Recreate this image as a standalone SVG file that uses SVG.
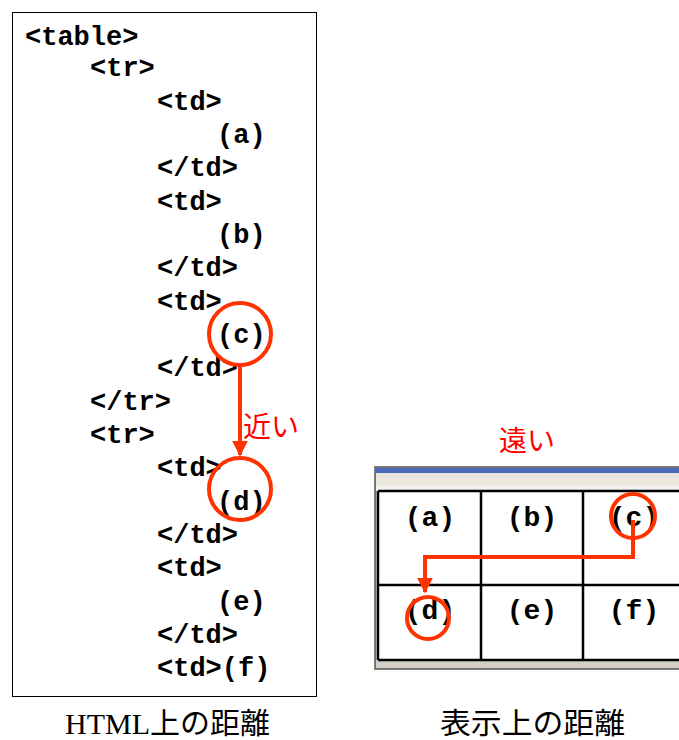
<svg xmlns="http://www.w3.org/2000/svg" width="679" height="740" viewBox="0 0 679 740">
  <defs>
    <style>
      .code { font-family: "Liberation Mono", "Courier New", monospace; font-weight: bold; font-size: 27px; fill: #000; }
      .cell { font-family: "Liberation Mono", "Courier New", monospace; font-weight: bold; font-size: 28px; fill: #000; text-anchor: middle; }
      .mark { fill: none; stroke: #ff3300; stroke-width: 4; }
      .note { font-family: "Noto Sans CJK JP", sans-serif; font-size: 28px; fill: #ff0000; }
      .caption { font-family: "Liberation Serif", "Noto Sans CJK JP", serif; font-size: 29px; fill: #000; }
      .grid { stroke: #000; stroke-width: 2.5; fill: none; }
    </style>
    <marker id="head" viewBox="0 0 10 10" refX="9" refY="5" markerWidth="4" markerHeight="4" orient="auto" markerUnits="strokeWidth">
      <path d="M0,0 L10,5 L0,10 Z" fill="#ff3300"/>
    </marker>
  </defs>

  <rect width="679" height="740" fill="#fff"/>

  <!-- HTML source listing -->
  <g id="html-source">
    <rect x="12.5" y="12.5" width="304" height="684" fill="#fff" stroke="#000" stroke-width="1"/>
    <text class="code" x="25" y="45">&lt;table&gt;</text>
    <text class="code" x="90" y="76">&lt;tr&gt;</text>
    <text class="code" x="157" y="110">&lt;td&gt;</text>
    <text class="code" x="217" y="143">(a)</text>
    <text class="code" x="157" y="176">&lt;/td&gt;</text>
    <text class="code" x="157" y="210">&lt;td&gt;</text>
    <text class="code" x="217" y="243">(b)</text>
    <text class="code" x="157" y="276">&lt;/td&gt;</text>
    <text class="code" x="157" y="310">&lt;td&gt;</text>
    <text class="code" x="217" y="343">(c)</text>
    <text class="code" x="157" y="376">&lt;/td&gt;</text>
    <text class="code" x="90" y="410">&lt;/tr&gt;</text>
    <text class="code" x="90" y="443">&lt;tr&gt;</text>
    <text class="code" x="157" y="476">&lt;td&gt;</text>
    <text class="code" x="217" y="510">(d)</text>
    <text class="code" x="157" y="543">&lt;/td&gt;</text>
    <text class="code" x="157" y="576">&lt;td&gt;</text>
    <text class="code" x="217" y="610">(e)</text>
    <text class="code" x="157" y="643">&lt;/td&gt;</text>
    <text class="code" x="157" y="676">&lt;td&gt;(f)</text>
  </g>

  <!-- rendered table inside a browser window -->
  <g id="browser">
    <rect x="375" y="467" width="310" height="202" fill="#c8c8c8" stroke="#555" stroke-width="1.5"/>
    <rect x="376" y="468" width="303" height="5" fill="#4a68b8"/>
    <rect x="376" y="473" width="303" height="6" fill="#e6e3da"/>
    <rect x="376" y="479" width="303" height="7" fill="#ece9e0"/>
    <rect x="376" y="486" width="303" height="4" fill="#f2f2f2"/>
    <rect x="377" y="490" width="302" height="171" fill="#fff"/>
    <rect x="376" y="662" width="303" height="6" fill="#d4d0c8"/>
    <path class="grid" d="M378,491 H679 M378,585 H679 M378,660 H679 M378,491 V660 M481,491 V660 M583,491 V660"/>
    <text class="cell" x="430" y="526">(a)</text>
    <text class="cell" x="532" y="526">(b)</text>
    <text class="cell" x="634" y="526">(c)</text>
    <text class="cell" x="430" y="619">(d)</text>
    <text class="cell" x="532" y="619">(e)</text>
    <text class="cell" x="634" y="619">(f)</text>
  </g>

  <!-- highlight marks -->
  <g id="marks">
    <circle class="mark" cx="240" cy="334" r="31"/>
    <circle class="mark" cx="240" cy="489" r="31"/>
    <circle class="mark" cx="633" cy="516" r="22"/>
    <circle class="mark" cx="428" cy="618" r="21"/>
  </g>

  <!-- connectors -->
  <g id="connectors">
    <path class="mark" d="M240,366 V455" marker-end="url(#head)"/>
    <path class="mark" d="M633,520 V557 H425 V592" marker-end="url(#head)"/>
  </g>

  <g id="labels">
    <text class="note" x="243" y="437">近い</text>
    <text class="note" x="499" y="451">遠い</text>
    <text class="caption" x="65" y="734" textLength="205" lengthAdjust="spacingAndGlyphs">HTML上の距離</text>
    <text class="caption" x="440" y="734" textLength="185" lengthAdjust="spacingAndGlyphs">表示上の距離</text>
  </g>
</svg>
